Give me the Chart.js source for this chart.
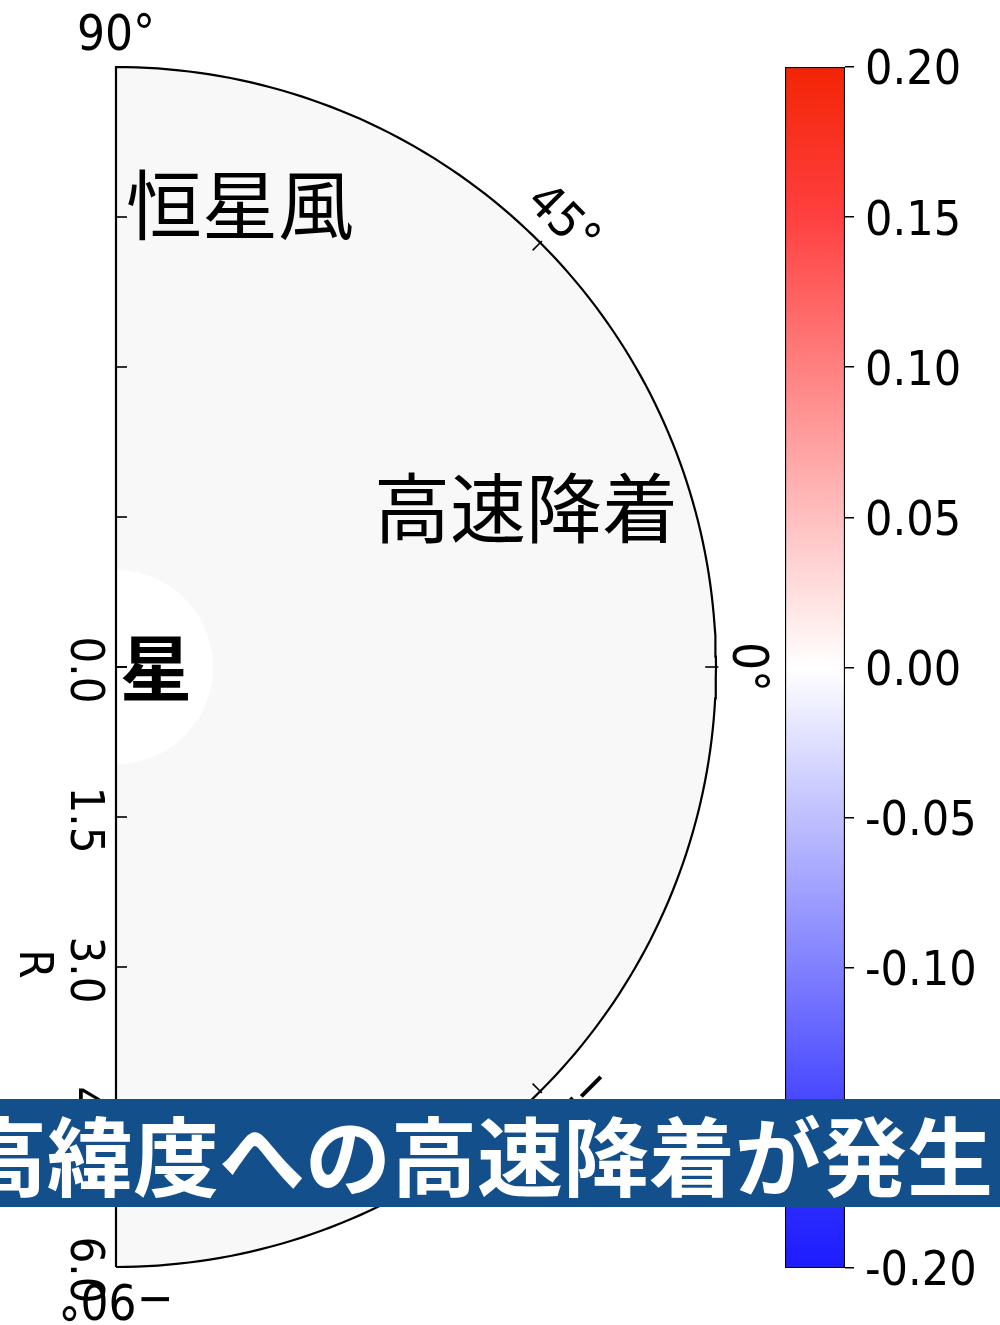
<!DOCTYPE html>
<html><head><meta charset="utf-8">
<script src="https://cdn.jsdelivr.net/npm/chart.js@4.4.1/dist/chart.umd.min.js"></script>
<style>
html,body{margin:0;padding:0;background:#fff;}
#wrap{position:relative;width:1000px;height:1325px;overflow:hidden;background:#fff;}
canvas{position:absolute;left:0;top:0;}
#banner{position:absolute;left:0;top:1099px;width:1000px;height:108px;background:#134f8b;overflow:hidden;}
#banner span{position:absolute;left:-39px;top:0;color:#fff;font-family:'Noto Sans CJK JP';font-weight:700;font-size:86px;line-height:108px;white-space:nowrap;}
</style></head><body>
<div id="wrap">
<canvas id="polar" width="1000" height="1325"></canvas>
<canvas id="cbar" width="1000" height="1325"></canvas>
<div id="banner"><span>高緯度への高速降着が発生</span></div>
</div>
<script>
// ---- data ----
const radialTicks = [0.0, 1.5, 3.0, 4.5, 6.0];
const radialTickLabels = ['0.0', '1.5', '3.0', '4.5', '6.0'];
const thetaTicks = [90, 45, 0, -45, -90];
const thetaTickLabels = ['90°', '45°', '0°', '−45°', '−90°'];
const rMax = 6.0;
const starRadius = 0.97;
const fieldValue = 0.0;
const cbarMin = -0.20;
const cbarMax = 0.20;
const cbarStep = 0.05;
const radialAxisLabel = 'R';
const annotationTexts = ['恒星風', '高速降着', '星'];

// ---- helpers ----
function halfDisk(r) {
  const pts = [];
  for (let a = -90; a <= 90; a += 1) {
    const t = a * Math.PI / 180;
    pts.push({x: r * Math.cos(t), y: r * Math.sin(t)});
  }
  pts.push({x: 0, y: -r});
  return pts;
}
const NUM_FONT = "'DejaVu Sans Condensed', 'DejaVu Sans'";

const polarDecor = {
  id: 'polarDecor',
  afterDatasetsDraw(chart) {
    const xs = chart.scales.x, ys = chart.scales.y, ctx = chart.ctx;
    const P = (r, deg) => {
      const t = deg * Math.PI / 180;
      return [xs.getPixelForValue(r * Math.cos(t)), ys.getPixelForValue(r * Math.sin(t))];
    };
    ctx.save();
    ctx.strokeStyle = '#000';
    ctx.lineWidth = 1.6;
    // radial ticks on both straight edges
    radialTicks.forEach(r => {
      [90, -90].forEach(d => {
        const [px, py] = P(r, d);
        ctx.beginPath(); ctx.moveTo(px, py); ctx.lineTo(px + 11, py); ctx.stroke();
      });
    });
    // angular ticks
    thetaTicks.filter(d => Math.abs(d) < 90).forEach(d => {
      const [x1, y1] = P(rMax * 0.982, d);
      const [x2, y2] = P(rMax * 1.004, d);
      ctx.beginPath(); ctx.moveTo(x1, y1); ctx.lineTo(x2, y2); ctx.stroke();
    });
    ctx.fillStyle = '#000';
    ctx.textAlign = 'center';
    ctx.textBaseline = 'middle';
    // radial labels
    ctx.font = '47px ' + NUM_FONT;
    radialTicks.forEach((r, i) => {
      const [px, py] = P(r, -90);
      ctx.save(); ctx.translate(px - 33, py + 3); ctx.rotate(Math.PI / 2);
      ctx.fillText(radialTickLabels[i], 0, 0); ctx.restore();
    });
    // R axis label
    {
      const [px, py] = P(3.0, -90);
      ctx.save(); ctx.translate(px - 84, py - 3); ctx.rotate(Math.PI / 2);
      ctx.fillText(radialAxisLabel, 0, 0); ctx.restore();
    }
    // angular labels
    ctx.font = '49px ' + NUM_FONT;
    thetaTicks.forEach((d, i) => {
      const [px, py] = P(rMax * 1.050, d);
      ctx.save(); ctx.translate(px, py); ctx.rotate((90 - d) * Math.PI / 180);
      ctx.fillText(thetaTickLabels[i], 0, 0); ctx.restore();
    });
    // annotations
    ctx.textAlign = 'left';
    ctx.font = "400 76px 'Noto Sans CJK JP'";
    ctx.fillText(annotationTexts[0], xs.getPixelForValue(0.10), ys.getPixelForValue(4.62));
    ctx.fillText(annotationTexts[1], xs.getPixelForValue(2.58), ys.getPixelForValue(1.59));
    ctx.font = "700 72px 'Noto Sans CJK JP'";
    ctx.fillText(annotationTexts[2], xs.getPixelForValue(0.04), ys.getPixelForValue(-0.01));
    ctx.restore();
  }
};

function bwr(v) {
  // bwr colormap, v in [0,1]
  if (v < 0.5) { const t = v / 0.5; return [Math.round(255 * t), Math.round(255 * t), 255]; }
  const t = (v - 0.5) / 0.5; return [255, Math.round(255 * (1 - t)), Math.round(255 * (1 - t))];
}
const fv = bwr((fieldValue - cbarMin) / (cbarMax - cbarMin));
const fieldColor = `rgb(${Math.round(fv[0] * 0.972)},${Math.round(fv[1] * 0.972)},${Math.round(fv[2] * 0.972)})`;

new Chart(document.getElementById('polar'), {
  type: 'scatter',
  data: {
    datasets: [
      {data: halfDisk(rMax), showLine: true, fill: 'shape', backgroundColor: fieldColor, borderWidth: 0, pointRadius: 0, tension: 0, order: 2, clip: false},
      {data: halfDisk(starRadius), showLine: true, fill: 'shape', backgroundColor: '#ffffff', borderWidth: 0, pointRadius: 0, tension: 0, order: 1, clip: false},
      {data: halfDisk(rMax), showLine: true, fill: false, borderColor: '#000', borderWidth: 2.2, pointRadius: 0, tension: 0, order: 0, clip: false}
    ]
  },
  options: {
    responsive: false, animation: false, devicePixelRatio: 1,
    layout: {padding: {left: 116, top: 67, right: 284, bottom: 58}},
    scales: {
      x: {type: 'linear', min: 0, max: rMax, display: false},
      y: {type: 'linear', min: -rMax, max: rMax, display: false}
    },
    plugins: {legend: {display: false}, tooltip: {enabled: false}}
  },
  plugins: [polarDecor]
});

new Chart(document.getElementById('cbar'), {
  type: 'bar',
  data: {
    labels: [''],
    datasets: [{
      data: [[cbarMin, cbarMax]],
      backgroundColor: (c) => {
        const ch = c.chart; const ys = ch.scales.y;
        if (!ys || !ch.chartArea) return '#fff';
        const g = ch.ctx.createLinearGradient(0, ys.getPixelForValue(cbarMin), 0, ys.getPixelForValue(cbarMax));
        const n = 8;
        for (let i = 0; i <= n; i++) {
          const c3 = bwr(i / n);
          const col = i === n ? [243, 36, 4] : (i === 0 ? [28, 28, 255] : c3);
          g.addColorStop(i / n, `rgb(${col[0]},${col[1]},${col[2]})`);
        }
        return g;
      },
      borderColor: '#000', borderWidth: 1.5, borderSkipped: false,
      barPercentage: 1.0, categoryPercentage: 1.0
    }]
  },
  options: {
    responsive: false, animation: false, devicePixelRatio: 1,
    layout: {padding: {left: 785, top: 67, bottom: 57, right: 0}},
    scales: {
      x: {display: false},
      y: {
        position: 'right', min: cbarMin, max: cbarMax,
        afterFit: (s) => { s.width = 155; },
        ticks: {
          stepSize: cbarStep, color: '#000', padding: 11, labelOffset: 5,
          font: {family: NUM_FONT, size: 48},
          callback: (v) => Math.abs(v) < 1e-9 ? '0.00' : v.toFixed(2)
        },
        grid: {display: true, drawOnChartArea: false, drawTicks: true, tickLength: 9, color: '#000', lineWidth: 1.5},
        border: {display: false}
      }
    },
    plugins: {legend: {display: false}, tooltip: {enabled: false}}
  }
});
</script>
</body></html>
